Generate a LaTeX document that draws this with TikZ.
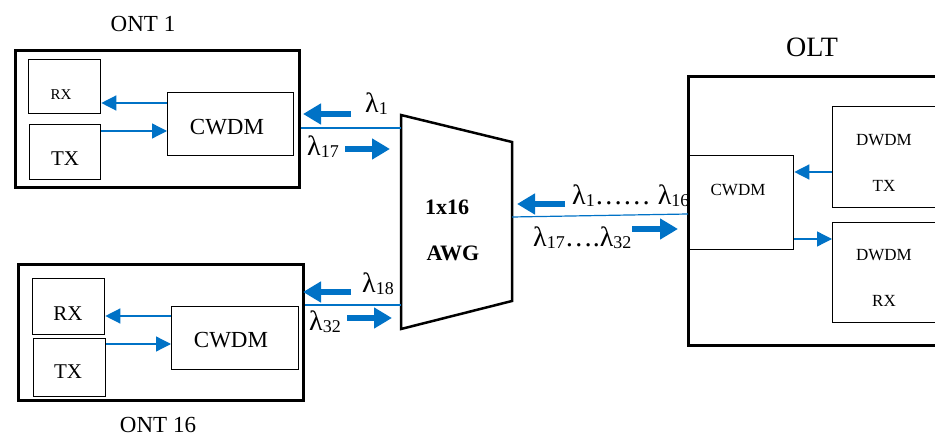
\documentclass[tikz,border=0pt]{standalone}
\usepackage{fontspec}
\setmainfont{Liberation Serif}
\usetikzlibrary{arrows.meta}
\definecolor{fiber}{RGB}{0,114,198}
% wavelength label: lambda with a small index
\newcommand{\wl}[1]{λ\raisebox{-1.5pt}{\fontsize{18}{18}\selectfont #1}}
\newcommand{\fs}[1]{\fontsize{#1}{#1}\selectfont}

\begin{document}
\begin{tikzpicture}[x=1pt,y=-1pt,
  outerbox/.style={draw,line width=2.8pt,inner sep=0pt,anchor=north west},
  unitbox/.style={draw,line width=1.3pt,inner sep=0pt,anchor=north west},
  link/.style={fiber,line width=1.3pt,-{Triangle[length=15pt,width=15pt]}},
  fibre/.style={fiber,line width=1.2pt},
  flow/.style={fiber,line width=6.5pt,-{Triangle[length=18pt,width=20pt]}},
  txt/.style={inner sep=0pt},
  wlab/.style={inner sep=0pt,anchor=base west,font=\fs{28}}
]
\useasboundingbox (0,0) rectangle (935,438);
\clip (0,0) rectangle (935,438);

% ---------- ONT 1 ----------
\node[outerbox,minimum width=284pt,minimum height=137pt] (ont1) at (14,49) {};
\node[unitbox,minimum width=72pt,minimum height=54pt] (rx1) at (28,59) {};
\node[unitbox,minimum width=71pt,minimum height=55pt] (tx1) at (29,124) {};
\node[unitbox,minimum width=126pt,minimum height=63pt] (cw1) at (167,92) {};
\node[txt,font=\fs{23}] (ont1lab) at (143,24) {ONT 1};
\node[txt,font=\fs{15}] at (61,95) {RX};
\node[txt,font=\fs{21}] at (65,159) {TX};
\node[txt,font=\fs{23}] at (227,127) {CWDM};
\draw[link] (cw1.west |- 0,103) -- (rx1.east |- 0,103);
\draw[link] (tx1.east |- 0,131) -- (cw1.west |- 0,131);

% ---------- ONT 16 ----------
\node[outerbox,minimum width=285pt,minimum height=136pt] (ont16) at (17,263) {};
\node[unitbox,minimum width=72pt,minimum height=56pt] (rx16) at (32,278) {};
\node[unitbox,minimum width=72pt,minimum height=58pt] (tx16) at (33,338) {};
\node[unitbox,minimum width=127pt,minimum height=63pt] (cw16) at (171,306) {};
\node[txt,font=\fs{23}] (ont16lab) at (158,425) {ONT 16};
\node[txt,font=\fs{21}] at (68,314) {RX};
\node[txt,font=\fs{21}] at (68,372) {TX};
\node[txt,font=\fs{23}] at (231,340) {CWDM};
\draw[link] (cw16.west |- 0,316) -- (rx16.east |- 0,316);
\draw[link] (tx16.east |- 0,344) -- (cw16.west |- 0,344);

% ---------- AWG ----------
\coordinate (awgtl) at (401,115);
\coordinate (awgtr) at (512,142);
\coordinate (awgbr) at (512,301);
\coordinate (awgbl) at (401,329);
\coordinate (awgin1) at (401,128);
\coordinate (awgin16) at (401,305);
\coordinate (awgout) at (512,217);
\draw[line width=2.5pt,line join=miter] (awgtl) -- (awgtr) -- (awgbr) -- (awgbl) -- cycle;
\node[txt,font=\bfseries\fs{22}] at (447,207) {1x16};
\node[txt,font=\bfseries\fs{22}] at (453,253) {AWG};

% ---------- OLT ----------
\node[outerbox,minimum width=280pt,minimum height=269pt] (olt) at (687,75) {};
\node[unitbox,minimum width=105pt,minimum height=94pt] (cwo) at (688,155) {};
\node[unitbox,minimum width=140pt,minimum height=101pt] (dtx) at (832,106) {};
\node[unitbox,minimum width=140pt,minimum height=100pt] (drx) at (832,222) {};
\node[txt,font=\fs{28}] (oltlab) at (812,47) {OLT};
\node[txt,font=\fs{17}] at (738,190) {CWDM};
\node[txt,font=\fs{17}] at (884,140) {DWDM};
\node[txt,font=\fs{17}] at (884,186) {TX};
\node[txt,font=\fs{17}] at (884,255) {DWDM};
\node[txt,font=\fs{17}] at (884,301) {RX};
\draw[link] (dtx.west |- 0,172) -- (cwo.east |- 0,172);
\draw[link] (cwo.east |- 0,239) -- (drx.west |- 0,239);

% ---------- fibres ----------
\draw[fibre] (ont1.east |- awgin1) -- (awgin1);
\draw[fibre] (ont16.east |- awgin16) -- (awgin16);
\draw[fibre] (awgout) -- (cwo.west |- 0,214);

% ---------- wavelength directions ----------
\draw[flow] (351,114) -- (303,114);
\draw[flow] (345,149) -- (390,149);
\draw[flow] (351,292) -- (303,292);
\draw[flow] (347,318) -- (392,318);
\draw[flow] (565,204) -- (517,204);
\draw[flow] (632,229) -- (678,229);
\node[wlab] at (365,113) {\wl{1}};
\node[wlab] at (307,156) {\wl{17}};
\node[wlab] at (362,293) {\wl{18}};
\node[wlab] at (309,331) {\wl{32}};
\node[wlab] at (572,205) {\wl{1}…… \wl{16}};
\node[wlab] at (533,247) {\wl{17}….\wl{32}};
\end{tikzpicture}
\end{document}
